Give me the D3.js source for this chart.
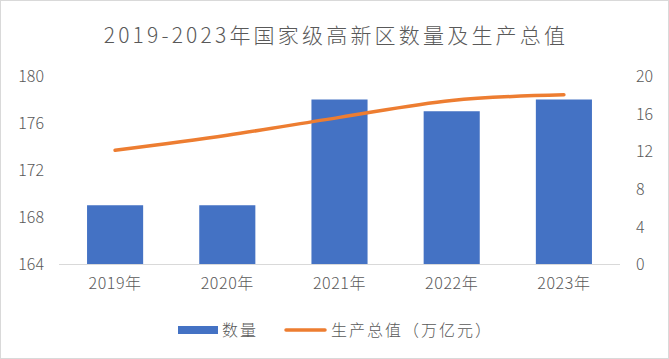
<!DOCTYPE html>
<html><head><meta charset="utf-8">
<script src="https://cdn.jsdelivr.net/npm/d3@7"></script>
<style>body{margin:0;background:#fff}svg{display:block}text{font-family:"Noto Sans CJK SC","Noto Sans",sans-serif;fill:#595959;font-weight:300}</style>
</head><body><svg id="c" width="669" height="359"></svg>
<script>
const categories = ["2019年","2020年","2021年","2022年","2023年"];
const counts = [169,169,178,177,178];
const output = [12.1,13.7,15.6,17.4,18.0];
const leftTicks = [164,168,172,176,180];
const rightTicks = [0,4,8,12,16,20];
const title = "2019-2023年国家级高新区数量及生产总值";
const seriesNames = ["数量","生产总值（万亿元）"];

const svg = d3.select("#c");
svg.append("rect").attr("x",0.5).attr("y",0.5).attr("width",668).attr("height",358).attr("fill","#fff").attr("stroke","#D9D9D9");

const L=59,R=620,T=76,B=264;
const x = d3.scaleBand().domain(categories).range([L,R]).paddingInner(0.5).paddingOuter(0.25);
const yL = d3.scaleLinear().domain([164,180]).range([B,T]);
const yR = d3.scaleLinear().domain([0,20]).range([B,T]);

svg.append("text").attr("x",336).attr("y",43).attr("text-anchor","middle")
  .style("font-size","21px").style("letter-spacing","3.2px").text(title);

svg.selectAll(".bar").data(categories).enter().append("rect")
  .attr("x",d=>x(d)).attr("width",x.bandwidth())
  .attr("y",(d,i)=>yL(counts[i])).attr("height",(d,i)=>B-yL(counts[i]))
  .attr("fill","#4472C4");

svg.append("line").attr("x1",L).attr("x2",R).attr("y1",B+0.5).attr("y2",B+0.5).attr("stroke","#D9D9D9");

const line = d3.line().x((d,i)=>x(categories[i])+x.bandwidth()/2).y(d=>yR(d)).curve(d3.curveMonotoneX);
svg.append("path").datum(output).attr("d",line).attr("fill","none").attr("stroke","#ED7D31").attr("stroke-width",3.5).attr("stroke-linecap","round");

const axL = d3.axisLeft(yL).tickValues(leftTicks).tickSize(0).tickPadding(0);
const gL = svg.append("g").attr("transform",`translate(44,0)`).call(axL);
const axR = d3.axisRight(yR).tickValues(rightTicks).tickSize(0).tickPadding(0);
const gR = svg.append("g").attr("transform",`translate(636,0)`).call(axR);
const axB = d3.axisBottom(x).tickSize(0).tickPadding(0);
const gB = svg.append("g").attr("transform",`translate(0,${B+11})`).call(axB);
[gL,gR,gB].forEach(g=>{g.select(".domain").remove();g.selectAll("text").style("font-size","16px").attr("fill","#595959").style("font-weight","300").style("font-family","'Noto Sans CJK SC','Noto Sans',sans-serif");});
gL.selectAll("text").attr("dy","0.35em");
gR.selectAll("text").attr("dy","0.35em");
gB.selectAll("text").attr("dy","0.85em").style("letter-spacing","0.6px");

const lg = svg.append("g");
lg.append("rect").attr("x",178).attr("y",326).attr("width",40).attr("height",8).attr("fill","#4472C4");
lg.append("text").attr("x",222).attr("y",336).style("font-size","16px").style("letter-spacing","2px").text(seriesNames[0]);
lg.append("line").attr("x1",286).attr("x2",325).attr("y1",330).attr("y2",330).attr("stroke","#ED7D31").attr("stroke-width",3.5).attr("stroke-linecap","round");
lg.append("text").attr("x",331).attr("y",336).style("font-size","16px").style("letter-spacing","2px").text(seriesNames[1]);
</script></body></html>
